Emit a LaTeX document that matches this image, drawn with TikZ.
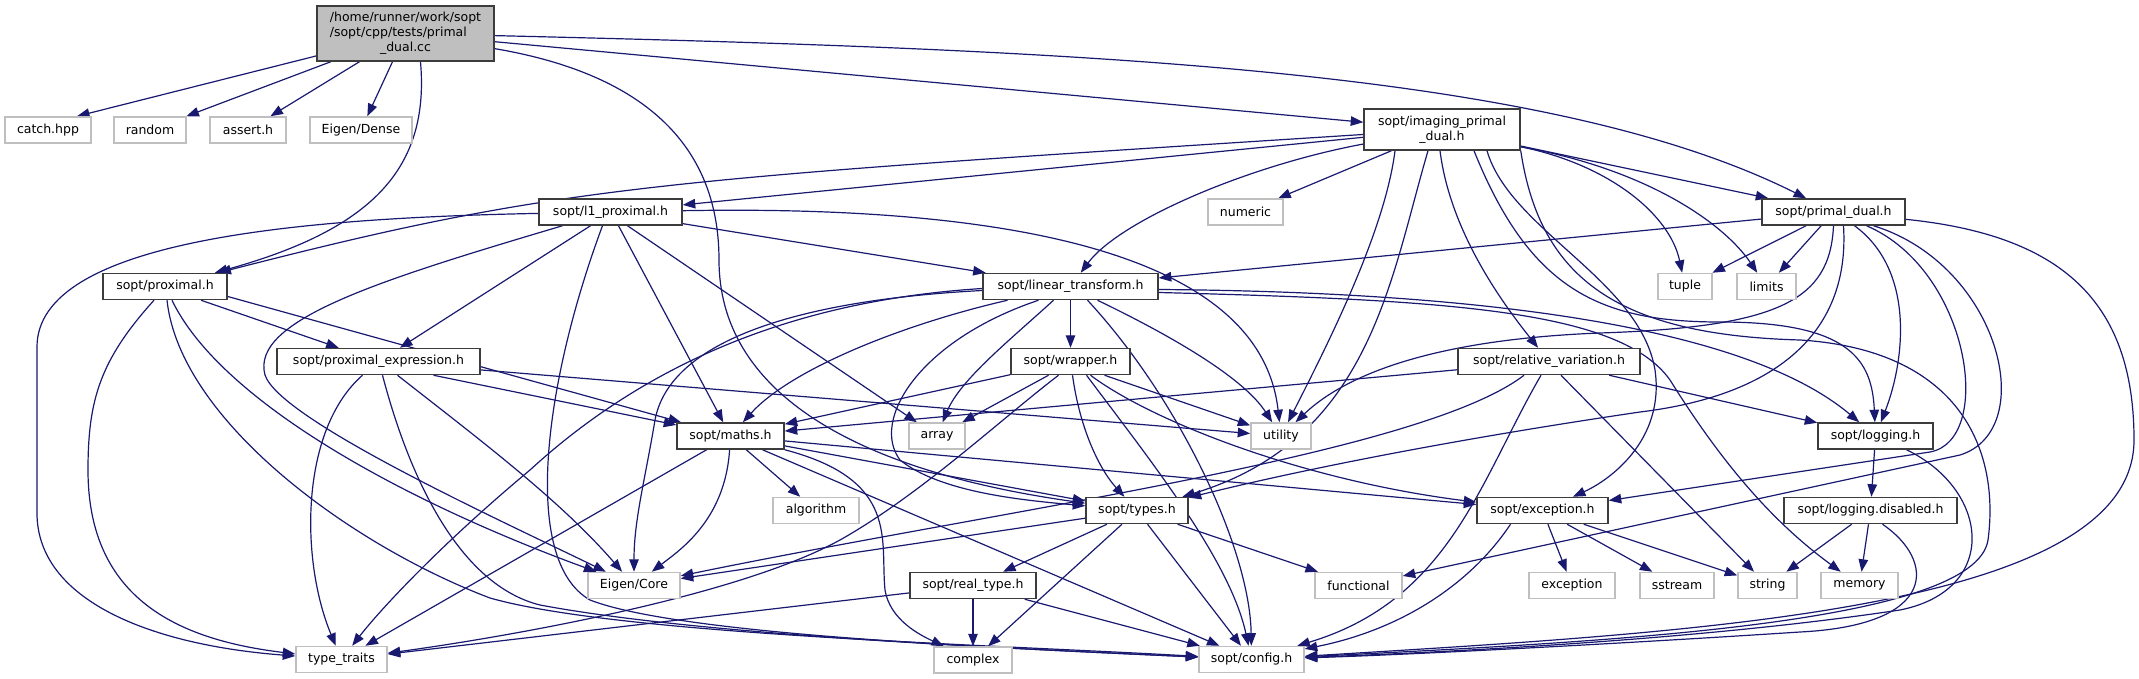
\documentclass[tikz,border=0pt]{standalone}
\usepackage{fontspec}
\setmainfont{DejaVu Sans}
\usetikzlibrary{arrows.meta}
\definecolor{eb}{RGB}{25,25,112}
\definecolor{gb}{RGB}{191,191,191}
\definecolor{nb}{RGB}{60,60,60}
\newcommand\gf{\fontsize{12.5}{15}\selectfont}
\pgfdeclarelayer{bg}
\pgfsetlayers{bg,main}
\tikzset{
  nd/.style={draw=nb, line width=1.5pt, fill=white, inner sep=0pt, font=\gf, align=center, minimum height=26pt},
  sy/.style={draw=gb, line width=1.5pt, fill=white, inner sep=0pt, font=\gf, align=center, minimum height=26pt},
  e/.style={draw=eb, line width=1.2pt, -{Triangle[length=12.5pt,width=9.5pt]}},
}
\begin{document}
\begin{tikzpicture}[x=1pt,y=-1pt]
\useasboundingbox (0,0) rectangle (2139,679);
% nodes
\node[nd, fill=gb, minimum width=177pt, minimum height=55pt] (main) at (405.5,33.5)
  {\begin{tabular}{@{}l@{}}/home/runner/work/sopt\\/sopt/cpp/tests/primal\\\multicolumn{1}{@{}c@{}}{\_dual.cc}\end{tabular}};
\node[sy, minimum width=86pt] (catch) at (48,130) {catch.hpp};
\node[sy, minimum width=72pt] (random) at (150,130) {random};
\node[sy, minimum width=76pt] (assert) at (248,130) {assert.h};
\node[sy, minimum width=102pt] (edense) at (361,130) {Eigen/Dense};
\node[nd, minimum width=156pt, minimum height=41pt] (ipd) at (1442,129.5) {sopt/imaging\_primal\\\_dual.h};
\node[sy, minimum width=75pt] (numeric) at (1245.5,212) {numeric};
\node[nd, minimum width=143pt] (l1) at (610.5,212) {sopt/l1\_proximal.h};
\node[nd, minimum width=143pt] (pd) at (1833.5,212) {sopt/primal\_dual.h};
\node[nd, minimum width=124pt] (proximal) at (165,286.5) {sopt/proximal.h};
\node[nd, minimum width=175pt] (lt) at (1070.5,286.5) {sopt/linear\_transform.h};
\node[sy, minimum width=54pt] (tuple) at (1685,286.5) {tuple};
\node[sy, minimum width=59pt] (limits) at (1766.5,286.5) {limits};
\node[nd, minimum width=203pt] (proxexpr) at (378.5,361.5) {sopt/proximal\_expression.h};
\node[nd, minimum width=119pt] (wrapper) at (1070.5,361.5) {sopt/wrapper.h};
\node[nd, minimum width=182pt] (rel) at (1549,361.5) {sopt/relative\_variation.h};
\node[nd, minimum width=107pt] (maths) at (730.5,436) {sopt/maths.h};
\node[sy, minimum width=56pt] (array) at (937,436) {array};
\node[sy, minimum width=60pt] (utility) at (1281,436) {utility};
\node[nd, minimum width=115pt] (logging) at (1875.5,436) {sopt/logging.h};
\node[sy, minimum width=86pt] (algorithm) at (816,510.5) {algorithm};
\node[nd, minimum width=102pt] (types) at (1137,510.5) {sopt/types.h};
\node[nd, minimum width=131pt] (exch) at (1542.5,510.5) {sopt/exception.h};
\node[nd, minimum width=173pt] (logdis) at (1870.5,510.5) {sopt/logging.disabled.h};
\node[sy, minimum width=92pt] (ecore) at (634,585.5) {Eigen/Core};
\node[nd, minimum width=126pt] (realtype) at (973,585.5) {sopt/real\_type.h};
\node[sy, minimum width=87pt] (functional) at (1358.5,585.5) {functional};
\node[sy, minimum width=86pt] (exception) at (1572,585.5) {exception};
\node[sy, minimum width=74pt] (sstream) at (1677,585.5) {sstream};
\node[sy, minimum width=59pt] (string) at (1767.5,585.5) {string};
\node[sy, minimum width=77pt] (memory) at (1859.5,585.5) {memory};
\node[sy, minimum width=91pt] (typetraits) at (341.5,659.5) {type\_traits};
\node[sy, minimum width=78pt] (complex) at (973,660) {complex};
\node[sy, minimum width=105pt] (config) at (1251.5,659.5) {sopt/config.h};
% edges
\begin{pgfonlayer}{bg}
% main
\draw[e] (main) -- ([xshift=29pt]catch.north);
\draw[e] (main) -- (random);
\draw[e] (main) -- (assert);
\draw[e] (main) -- (edense);
\draw[e] ([xshift=15pt]main.south) .. controls (430,170) and (370,230) .. (proximal);
\draw[e] (main) .. controls (650,75) and (719,150) .. (719,260) .. controls (719,390) and (850,470) .. (types);
\draw[e] (main) -- (ipd);
\draw[e] (main) .. controls (1100,50) and (1550,70) .. (pd);
% imaging primal dual
\draw[e] (ipd) -- (l1);
\draw[e] (ipd) .. controls (650,180) and (560,185) .. (proximal);
\draw[e] (ipd) -- (numeric);
\draw[e] (ipd) .. controls (1250,165) and (1120,220) .. (lt);
\draw[e] ([xshift=-47pt]ipd.south) .. controls (1385,230) and (1330,340) .. (utility);
\draw[e] ([xshift=-14pt]ipd.south) .. controls (1390,280) and (1370,440) .. (types);
\draw[e] ([xshift=-2pt]ipd.south) .. controls (1450,230) and (1500,300) .. (rel);
\draw[e] ([xshift=45pt]ipd.south) .. controls (1510,230) and (1640,280) .. (1655,370) .. controls (1665,440) and (1610,480) .. (exch);
\draw[e] ([xshift=32pt]ipd.south) .. controls (1530,290) and (1600,322) .. (1720,322) .. controls (1850,322) and (1872,360) .. (logging);
\draw[e] (ipd.south east) .. controls (1540,280) and (1620,335) .. (1800,340) .. controls (1960,350) and (2000,450) .. (1988,540) .. controls (1975,625) and (1600,642) .. (config);
\draw[e] (ipd) -- (pd);
\draw[e] ([yshift=4pt]ipd.south east) .. controls (1610,165) and (1670,215) .. (tuple);
\draw[e] ([yshift=4pt]ipd.south east) .. controls (1650,170) and (1725,225) .. (limits);
% primal dual
\draw[e] (pd) -- (lt);
\draw[e] (pd) -- (tuple);
\draw[e] (pd) -- (limits);
\draw[e] (pd.south) .. controls (1830,300) and (1780,327) .. (1600,333) .. controls (1420,340) and (1340,380) .. (utility);
\draw[e] ([xshift=10pt]pd.south) .. controls (1850,330) and (1780,395) .. (1640,412) .. controls (1450,440) and (1300,470) .. (types);
\draw[e] ([xshift=21pt]pd.south) .. controls (1915,270) and (1905,360) .. (logging);
\draw[e] ([xshift=33pt]pd.south) .. controls (1970,270) and (1995,440) .. (1930,452) -- (exch);
\draw[e] ([xshift=40pt]pd.south) .. controls (2000,265) and (2040,430) .. (1960,455) -- (functional);
\draw[e] (pd) .. controls (2060,235) and (2134,300) .. (2134,440) .. controls (2134,610) and (1700,632) .. (config);
% l1 proximal
\draw[e] (l1) -- (lt);
\draw[e] (l1) .. controls (1000,205) and (1260,250) .. (utility);
\draw[e] ([xshift=17pt]l1.south) -- (array);
\draw[e] ([xshift=8pt]l1.south) -- (maths);
\draw[e] ([xshift=-8pt]l1.south) .. controls (545,380) and (520,560) .. (590,600) .. controls (680,635) and (1000,648) .. (config);
\draw[e] ([xshift=-20pt]l1.south) -- (proxexpr);
\draw[e] ([xshift=-48pt]l1.south) .. controls (380,280) and (250,320) .. (265,375) .. controls (280,420) and (500,520) .. (ecore);
\draw[e] (l1) .. controls (300,218) and (37,240) .. (37,347) -- (37,513) .. controls (37,600) and (150,645) .. (typetraits);
% proximal
\draw[e] ([xshift=-11pt]proximal.south) .. controls (100,360) and (88,400) .. (88,470) .. controls (88,600) and (180,640) .. (typetraits);
\draw[e] ([xshift=2pt]proximal.south) .. controls (180,420) and (350,545) .. (490,598) .. controls (620,635) and (1000,645) .. (config);
\draw[e] ([xshift=7pt]proximal.south) .. controls (220,400) and (400,500) .. (ecore);
\draw[e] ([xshift=36pt]proximal.south) -- (proxexpr);
\draw[e] ([yshift=-10pt]proximal.east) -- (maths);
% proximal expression
\draw[e] ([xshift=-16pt]proxexpr.south) .. controls (300,430) and (300,560) .. (typetraits);
\draw[e] ([xshift=4pt]proxexpr.south) .. controls (410,480) and (460,585) .. (540,605) .. controls (700,635) and (1000,648) .. (config);
\draw[e] ([xshift=19pt]proxexpr.south) .. controls (480,440) and (560,500) .. (ecore);
\draw[e] ([xshift=55pt]proxexpr.south) -- (maths);
\draw[e] (proxexpr) -- (utility);
% linear transform
\draw[e] (lt) -- (wrapper);
\draw[e] ([xshift=-63pt]lt.south) .. controls (900,325) and (790,370) .. (maths);
\draw[e] ([xshift=-17pt]lt.south) .. controls (1010,340) and (960,380) .. (array);
\draw[e] ([xshift=-32pt]lt.south) .. controls (920,340) and (870,420) .. (900,460) .. controls (940,492) and (1020,500) .. (types);
\draw[e] ([xshift=17pt]lt.south) .. controls (1180,400) and (1250,550) .. (config);
\draw[e] ([xshift=27pt]lt.south) .. controls (1180,340) and (1245,380) .. (utility);
\draw[e] ([yshift=-6pt]lt.east) .. controls (1450,300) and (1620,310) .. (1670,380) .. controls (1720,460) and (1770,520) .. (memory);
\draw[e] ([yshift=-3pt]lt.east) .. controls (1500,292) and (1750,330) .. (logging);
\draw[e] ([yshift=-2pt]lt.west) .. controls (800,300) and (650,360) .. (530,470) .. controls (440,545) and (380,610) .. (typetraits);
\draw[e] ([yshift=-4pt]lt.west) .. controls (800,300) and (670,340) .. (655,420) .. controls (645,480) and (634,520) .. (ecore);
% wrapper
\draw[e] (wrapper) -- (maths);
\draw[e] ([xshift=-22pt]wrapper.south) -- (array);
\draw[e] ([xshift=-12pt]wrapper.south) .. controls (1000,420) and (920,495) .. (840,540) .. controls (740,595) and (520,635) .. (typetraits);
\draw[e] ([xshift=2pt]wrapper.south) .. controls (1080,430) and (1100,470) .. (types);
\draw[e] ([xshift=16pt]wrapper.south) .. controls (1150,460) and (1230,560) .. (config);
\draw[e] ([xshift=20pt]wrapper.south) .. controls (1150,420) and (1300,480) .. (exch);
\draw[e] ([xshift=34pt]wrapper.south) -- (utility);
% maths
\draw[e] (maths) -- (typetraits);
\draw[e] (maths) .. controls (725,520) and (680,550) .. (ecore);
\draw[e] (maths) -- (algorithm);
\draw[e] (maths) -- (config);
\draw[e] (maths) -- (types);
\draw[e] (maths) -- (exch);
\draw[e] (maths.south east) .. controls (900,480) and (880,540) .. (885,590) .. controls (890,620) and (920,635) .. (complex);
% types
\draw[e] (types) -- (realtype);
\draw[e] (types) -- (complex);
\draw[e] (types) -- (config);
\draw[e] (types) -- (functional);
\draw[e] (types) -- (ecore);
% relative variation
\draw[e] (rel) -- (maths);
\draw[e] ([xshift=-25pt]rel.south) .. controls (1420,455) and (1000,510) .. (ecore);
\draw[e] ([xshift=-8pt]rel.south) .. controls (1480,480) and (1450,600) .. (config);
\draw[e] ([xshift=12pt]rel.south) -- (string);
\draw[e] (rel) -- (logging);
% exception
\draw[e] (exch) -- (exception);
\draw[e] (exch) -- (sstream);
\draw[e] (exch) -- (string);
\draw[e] ([xshift=-32pt]exch.south) .. controls (1470,585) and (1400,630) .. (config);
% logging
\draw[e] (logging) -- (logdis);
\draw[e] ([xshift=31pt]logging.south) .. controls (1990,490) and (2000,590) .. (1900,610) .. controls (1700,640) and (1450,652) .. (config);
\draw[e] (logdis) -- (string);
\draw[e] (logdis) -- (memory);
\draw[e] ([xshift=12pt]logdis.south) .. controls (1935,560) and (1940,625) .. (1800,632) .. controls (1600,645) and (1400,655) .. (config);
% real type
\draw[e] (realtype) -- (complex);
\draw[e] (realtype) -- (config);
\draw[e] (realtype) -- (typetraits);
\end{pgfonlayer}
\end{tikzpicture}
\end{document}
